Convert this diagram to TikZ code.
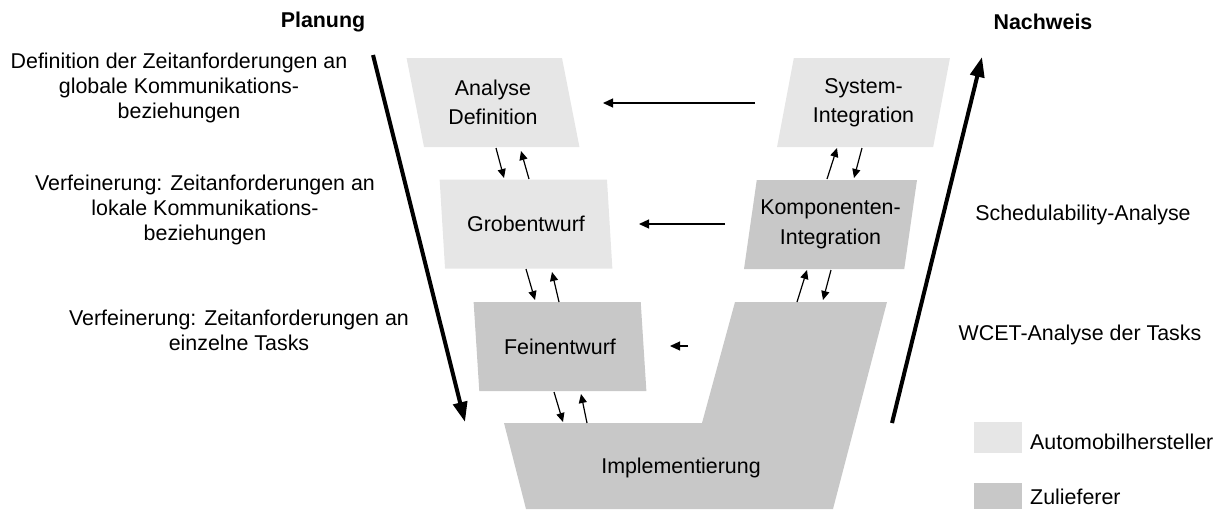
\documentclass[tikz,border=0pt]{standalone}
\usepackage{fontspec}
\setmainfont{Liberation Sans}
\usetikzlibrary{shapes.geometric,arrows.meta,calc}
\definecolor{oemgray}{HTML}{E6E6E6}
\definecolor{suppgray}{HTML}{C8C8C8}
\begin{document}
\begin{tikzpicture}[x=1pt,y=-1pt,
  lbl/.style={font=\fontsize{21.4}{25}\selectfont, align=center, inner sep=0pt},
  phase/.style={shape=trapezium, trapezium stretches=true, minimum width=173pt,
    minimum height=89pt, inner sep=0pt, outer sep=0pt, align=center,
    font=\fontsize{21.4}{29.5}\selectfont},
  slantL/.style={phase, trapezium left angle=104, trapezium right angle=76},
  slantR/.style={phase, trapezium left angle=76, trapezium right angle=104},
  oem/.style={fill=oemgray},
  supp/.style={fill=suppgray},
  sarr/.style={line width=1.2pt, -{Triangle[length=9pt,width=8pt]}},
  harr/.style={line width=1.2pt, -{Triangle[length=10pt,width=9pt]}},
  bigarr/.style={line width=4pt, -{Triangle[length=20pt,width=14pt]}},
  legbox/.style={minimum width=48pt, inner sep=0pt, outer sep=0pt},
]
\useasboundingbox (0,0) rectangle (1224,509);

% column headings
\node[lbl, font=\fontsize{21.4}{25}\selectfont\bfseries] (plan) at (323,22) {Planung};
\node[lbl, font=\fontsize{21.4}{25}\selectfont\bfseries] (nach) at (1043,22) {Nachweis};

% left descriptions
\node[lbl] (d1) at (179,88) {Definition der Zeitanforderungen an\\globale Kommunikations-\\beziehungen};
\node[lbl] (d2) at (205,210) {Verfeinerung: Zeitanforderungen an\\lokale Kommunikations-\\beziehungen};
\node[lbl] (d3) at (239,330) {Verfeinerung: Zeitanforderungen an\\einzelne Tasks};

% right descriptions
\node[lbl] (r1) at (1083,215) {Schedulability-Analyse};
\node[lbl] (r2) at (1080,335) {WCET-Analyse der Tasks};

% implementation block (bottom of the V)
\fill[suppgray] (504,423) -- (702,423) -- (735,302) -- (887,302) -- (833,509) -- (526,509) -- cycle;
\node[lbl] (impl) at (681,468) {Implementierung};

% phases
\node[slantL,oem]  (ana)  at (493,102.5) {Analyse\\Definition};
\node[slantL,oem]  (grob) at (526,224)   {Grobentwurf};
\node[slantL,supp] (fein) at (560,346.5) {Feinentwurf};
\node[slantR,oem]  (sys)  at (863.5,102.5) {System-\\Integration};
\node[slantR,supp] (komp) at (830.5,224.5) {Komponenten-\\Integration};

% left branch: down and up
\draw[sarr] ($(ana)+(3,45.5)$)   -- ($(grob)+(-22,-46)$);
\draw[sarr] ($(grob)+(3,-45)$)   -- ($(ana)+(28,48.5)$);
\draw[sarr] ($(grob)+(0,45)$)    -- ($(fein)+(-25,-46.5)$);
\draw[sarr] ($(fein)+(-1,-44.5)$) -- ($(grob)+(26,48)$);
\draw[sarr] ($(fein)+(-6,45.5)$) -- ($(impl)+(-118,-46)$);
\draw[sarr] ($(impl)+(-94,-45)$) -- ($(fein)+(21,47.5)$);

% right branch: up and down
\draw[sarr] ($(komp)+(-3.5,-45.5)$) -- ($(sys)+(-26.5,45.5)$);
\draw[sarr] ($(sys)+(-1.5,45.5)$)   -- ($(komp)+(23.5,-46.5)$);
\draw[sarr] ($(impl)+(116,-166)$)   -- ($(komp)+(-23.5,45.5)$);
\draw[sarr] ($(komp)+(0.5,45.5)$)   -- ($(impl)+(142,-168)$);

% feedback across the V
\draw[harr] ($(sys)+(-108.5,0.5)$) -- ($(ana)+(110,0.5)$);
\draw[harr] ($(komp)+(-105.5,-0.5)$) -- ($(grob)+(113,0)$);
\draw[harr] ($(impl)+(7,-122)$) -- ($(fein)+(110,-0.5)$);

% planning / verification arrows
\coordinate (planTop) at (373,55);
\coordinate (planEnd) at (465,422);
\coordinate (nachStart) at (892,423);
\coordinate (nachEnd) at (982,57);
\draw[bigarr] (planTop) -- (planEnd);
\draw[bigarr] (nachStart) -- (nachEnd);

% legend
\node[legbox, fill=oemgray, minimum height=31pt] (legoem) at (998,437.5) {};
\node[lbl, anchor=west] (legoemt) at (1030,442) {Automobilhersteller};
\node[legbox, fill=suppgray, minimum height=26pt] (legsupp) at (998,496) {};
\node[lbl, anchor=west] (legsuppt) at (1030,497) {Zulieferer};
\end{tikzpicture}
\end{document}
